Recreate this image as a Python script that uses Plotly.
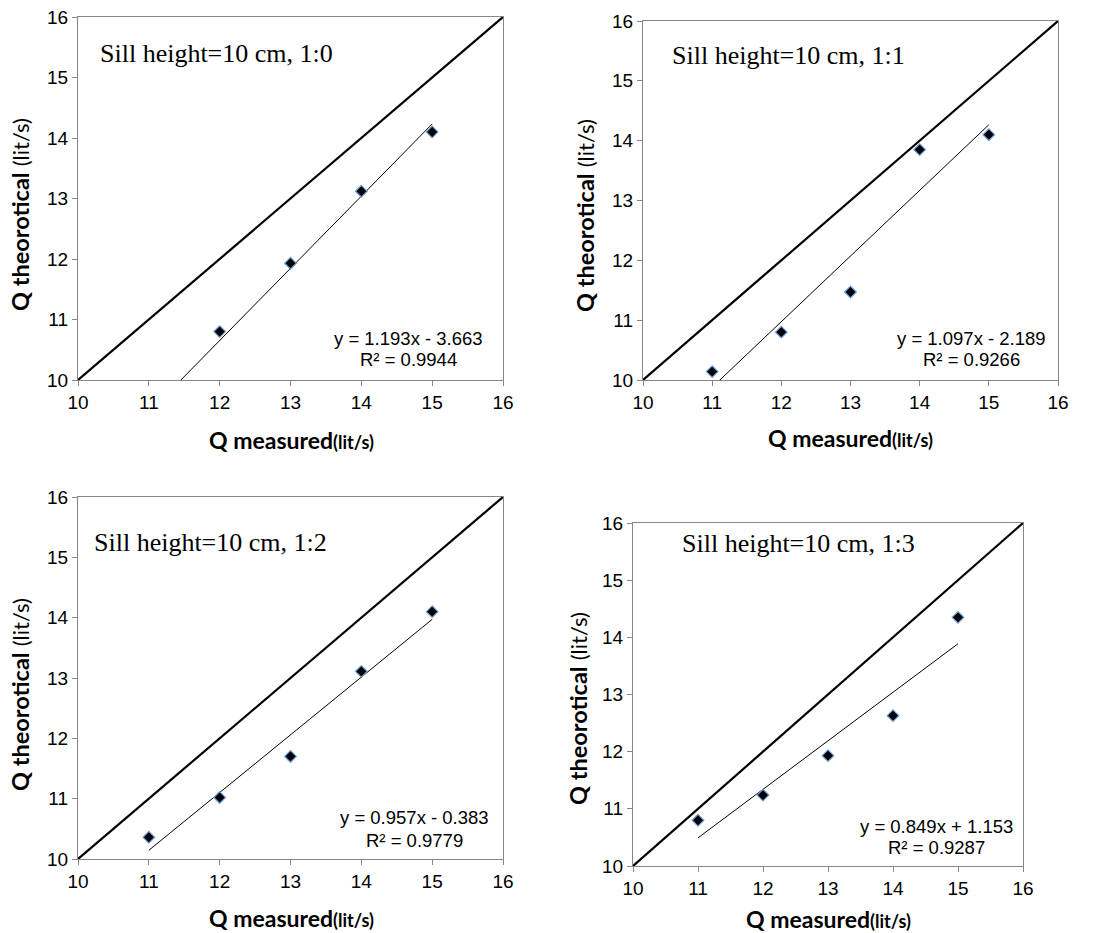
import plotly.graph_objects as go

W, H = 1106, 933

# ---- data ----
q_measured = [11, 12, 13, 14, 15]
q_theo_10 = [None, 10.80, 11.93, 13.12, 14.10]
q_theo_11 = [10.14, 10.80, 11.47, 13.85, 14.10]
q_theo_12 = [10.36, 11.02, 11.70, 13.11, 14.10]
q_theo_13 = [10.80, 11.24, 11.93, 12.63, 14.35]
series = [q_theo_10, q_theo_11, q_theo_12, q_theo_13]
slopes = [1.193, 1.097, 0.957, 0.849]
intercepts = [-3.663, -2.189, -0.383, 1.153]
r2 = [0.9944, 0.9266, 0.9779, 0.9287]
titles = ["Sill height=10 cm, 1:0", "Sill height=10 cm, 1:1",
          "Sill height=10 cm, 1:2", "Sill height=10 cm, 1:3"]
diag = [10, 16]
tick_vals = [10, 11, 12, 13, 14, 15, 16]

# ---- layout in screen pixels ----
panels = [
    dict(x=(78, 503), y=(17, 380), title=(98, 53), eq=(408, 338, 360), xt=(291, 440), yt=(20, 215)),
    dict(x=(643, 1058), y=(21, 380), title=(670, 55), eq=(971, 338, 360), xt=(851, 438), yt=(585, 216)),
    dict(x=(78, 503), y=(497, 859), title=(92, 542), eq=(414, 817, 840), xt=(291, 918), yt=(20, 695)),
    dict(x=(633, 1023), y=(523, 866), title=(680, 543), eq=(937, 826, 847), xt=(828, 919), yt=(578, 709)),
]

def px(x):
    return x / W

def py(y):
    return 1 - y / H

fig = go.Figure()
annotations = []
layout = {}
for i, p in enumerate(panels):
    n = i + 1
    xa = "x" if n == 1 else f"x{n}"
    ya = "y" if n == 1 else f"y{n}"
    # diagonal 1:1 line
    fig.add_trace(go.Scatter(x=diag, y=diag, mode="lines", xaxis=xa, yaxis=ya,
                             line=dict(color="black", width=2.2), showlegend=False, hoverinfo="skip"))
    # trendline
    fx = [q_measured[0], q_measured[-1]]
    fy = [slopes[i] * v + intercepts[i] for v in fx]
    fig.add_trace(go.Scatter(x=fx, y=fy, mode="lines", xaxis=xa, yaxis=ya,
                             line=dict(color="black", width=1), showlegend=False, hoverinfo="skip"))
    # points
    fig.add_trace(go.Scatter(x=q_measured, y=series[i], mode="markers", xaxis=xa, yaxis=ya,
                             marker=dict(symbol="diamond", size=9, color="black",
                                         line=dict(color="#6f9fd8", width=1.2)),
                             showlegend=False, cliponaxis=False))
    axis_common = dict(range=[10, 16], tickvals=tick_vals, showgrid=False, zeroline=False,
                       showline=True, linecolor="#868686", linewidth=1.3, mirror=True,
                       ticks="outside", ticklen=5, tickcolor="#868686", automargin=False,
                       tickfont=dict(family="Liberation Sans, Arial", size=19, color="black"))
    layout["xaxis" if n == 1 else f"xaxis{n}"] = dict(
        axis_common, domain=[px(p["x"][0]), px(p["x"][1])], anchor=ya)
    layout["yaxis" if n == 1 else f"yaxis{n}"] = dict(
        axis_common, domain=[py(p["y"][1]), py(p["y"][0])], anchor=xa)

    annotations.append(dict(x=px(p["title"][0]), y=py(p["title"][1]), xref="paper", yref="paper",
                            text=titles[i], showarrow=False, xanchor="left", yanchor="middle",
                            font=dict(family="Liberation Serif, Times New Roman", size=26, color="black")))
    sign = "+" if intercepts[i] >= 0 else "-"
    eq1 = f"y = {slopes[i]:.3f}x {sign} {abs(intercepts[i]):.3f}"
    eq2 = f"R² = {r2[i]:.4f}"
    for txt, yy in ((eq1, p["eq"][1]), (eq2, p["eq"][2])):
        annotations.append(dict(x=px(p["eq"][0]), y=py(yy), xref="paper", yref="paper",
                                text=txt, showarrow=False, xanchor="center", yanchor="middle",
                                font=dict(family="Liberation Sans, Arial", size=18.5, color="black")))
    annotations.append(dict(x=px(p["xt"][0]), y=py(p["xt"][1]), xref="paper", yref="paper",
                            text="<b>Q measured</b><b><span style='font-size:18px'>(lit/s)</span></b>",
                            showarrow=False, xanchor="center", yanchor="middle",
                            font=dict(family="Lato, Open Sans", size=23, color="black")))
    annotations.append(dict(x=px(p["yt"][0]), y=py(p["yt"][1]), xref="paper", yref="paper",
                            text="<b>Q theorotical</b> <span style='font-size:22px'>(lit/s)</span>",
                            showarrow=False, xanchor="center", yanchor="middle", textangle=-90,
                            font=dict(family="Lato, Open Sans", size=23.5, color="black")))

fig.update_layout(width=W, height=H, margin=dict(l=0, r=0, t=0, b=0, autoexpand=False),
                  paper_bgcolor="white", plot_bgcolor="white",
                  annotations=annotations, **layout)
fig.write_html("out.html", config={"displayModeBar": False},
               post_script="document.body.style.margin='0';document.body.style.overflow='hidden';")
